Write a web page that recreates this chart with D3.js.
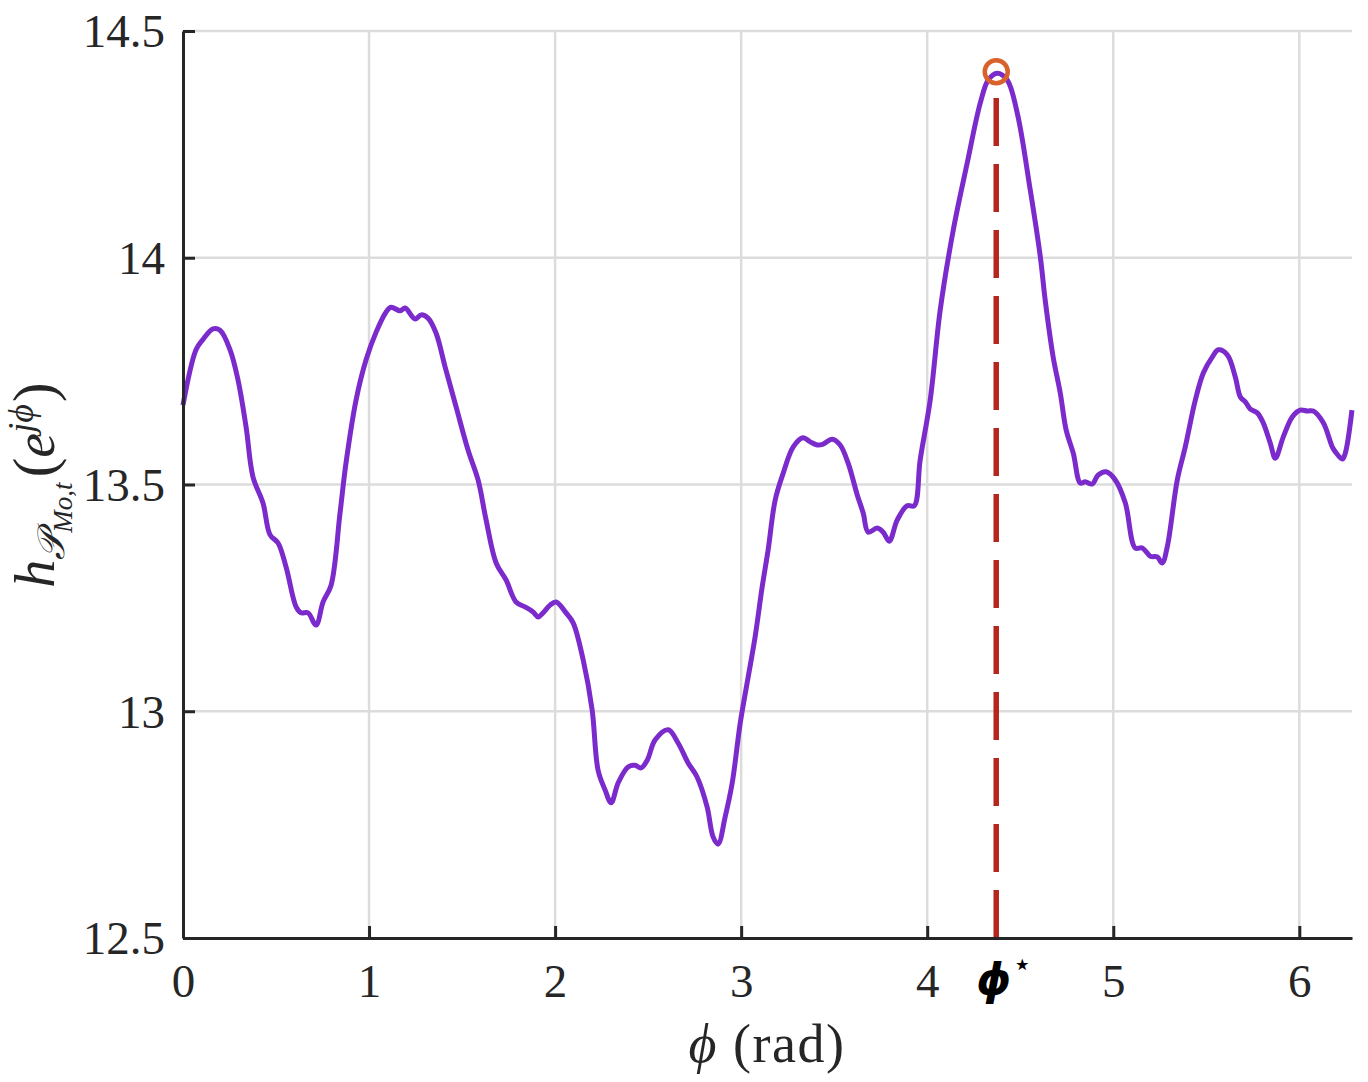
<!DOCTYPE html>
<html>
<head>
<meta charset="utf-8">
<script src="https://cdn.jsdelivr.net/npm/d3@7"></script>
<style>
  body { margin: 0; background: #fff; }
  svg { display: block; }
  .tick text { font-family: "Liberation Serif", "DejaVu Serif", serif; }
</style>
</head>
<body>
<svg id="chart" width="1368" height="1082"></svg>
<script>
// phase angle samples (rad)
let PHI = [0, 0.07, 0.108, 0.161, 0.199, 0.253, 0.296, 0.339, 0.376, 0.43, 0.468, 0.511, 0.554, 0.608,
    0.634, 0.672, 0.715, 0.753, 0.796, 0.844, 0.876, 0.93, 0.984, 1.038, 1.091, 1.118, 1.167, 1.194,
    1.247, 1.28, 1.317, 1.36, 1.409, 1.468, 1.532, 1.586, 1.629, 1.683, 1.737, 1.79, 1.839, 1.882,
    1.909, 1.935, 1.973, 2.005, 2.059, 2.097, 2.151, 2.199, 2.231, 2.269, 2.301, 2.339, 2.392, 2.43,
    2.462, 2.495, 2.538, 2.608, 2.661, 2.715, 2.763, 2.817, 2.849, 2.876, 2.914, 2.952, 2.995, 3.038,
    3.075, 3.113, 3.145, 3.183, 3.226, 3.28, 3.333, 3.371, 3.409, 3.441, 3.489, 3.532, 3.575, 3.624,
    3.656, 3.683, 3.731, 3.763, 3.796, 3.839, 3.892, 3.93, 3.962, 4.016, 4.07, 4.14, 4.215, 4.285,
    4.328, 4.376, 4.43, 4.484, 4.554, 4.608, 4.634, 4.677, 4.715, 4.747, 4.785, 4.823, 4.849, 4.887,
    4.919, 4.962, 5.011, 5.065, 5.118, 5.156, 5.199, 5.237, 5.263, 5.29, 5.344, 5.387, 5.441, 5.484,
    5.532, 5.565, 5.613, 5.656, 5.683, 5.71, 5.737, 5.774, 5.806, 5.844, 5.871, 5.914, 5.962, 6.005,
    6.043, 6.075, 6.129, 6.177, 6.194, 6.231, 6.247, 6.283];

let H = [13.675, 13.797, 13.82, 13.843, 13.84, 13.797, 13.73, 13.627, 13.517, 13.459, 13.389, 13.371,
    13.318, 13.23, 13.217, 13.217, 13.19, 13.241, 13.278, 13.437, 13.547, 13.686, 13.775, 13.836,
    13.88, 13.891, 13.883, 13.889, 13.865, 13.874, 13.867, 13.834, 13.759, 13.671, 13.576, 13.51,
    13.422, 13.327, 13.289, 13.241, 13.23, 13.219, 13.208, 13.217, 13.234, 13.241, 13.217, 13.195,
    13.113, 13.003, 12.87, 12.826, 12.798, 12.842, 12.877, 12.881, 12.875, 12.892, 12.937, 12.959,
    12.93, 12.886, 12.855, 12.789, 12.723, 12.707, 12.767, 12.842, 12.974, 13.076, 13.164, 13.274,
    13.356, 13.466, 13.525, 13.583, 13.603, 13.594, 13.587, 13.589, 13.6, 13.587, 13.547, 13.477,
    13.437, 13.395, 13.404, 13.395, 13.375, 13.422, 13.453, 13.453, 13.554, 13.686, 13.885, 14.061,
    14.209, 14.341, 14.392, 14.407, 14.392, 14.319, 14.149, 14.002, 13.907, 13.781, 13.702, 13.62,
    13.569, 13.503, 13.506, 13.501, 13.521, 13.528, 13.51, 13.459, 13.36, 13.36, 13.342, 13.34,
    13.327, 13.362, 13.51, 13.583, 13.686, 13.746, 13.781, 13.797, 13.786, 13.737, 13.693, 13.682,
    13.666, 13.658, 13.636, 13.591, 13.558, 13.605, 13.649, 13.664, 13.662, 13.662, 13.636, 13.583,
    13.572, 13.556, 13.569, 13.664];

let X_TICKS = [0, 1, 2, 3, 4, 5, 6];
let Y_TICKS = [12.5, 13, 13.5, 14, 14.5];
let PHI_STAR = 4.371;
let H_STAR = 14.41;

let margin = {top: 31, right: 16, bottom: 144, left: 183};
let width = 1368;
let height = 1082;

let svg = d3.select("#chart");

let x = d3.scaleLinear()
    .domain([0, 2 * Math.PI])
    .range([margin.left, width - margin.right]);

let y = d3.scaleLinear()
    .domain([12.5, 14.5])
    .range([height - margin.bottom, margin.top]);

// grid
svg.append("g")
    .selectAll("line")
    .data(X_TICKS.slice(1))
    .join("line")
    .attr("x1", d => x(d)).attr("x2", d => x(d))
    .attr("y1", y(12.5)).attr("y2", y(14.5))
    .attr("stroke", "#dcdcdc")
    .attr("stroke-width", 2.5);

svg.append("g")
    .selectAll("line")
    .data(Y_TICKS.slice(1))
    .join("line")
    .attr("x1", x(0)).attr("x2", x(2 * Math.PI))
    .attr("y1", d => y(d)).attr("y2", d => y(d))
    .attr("stroke", "#dcdcdc")
    .attr("stroke-width", 2.5);

// curve
let line = d3.line()
    .x((d, i) => x(PHI[i]))
    .y(d => y(d))
    .curve(d3.curveCatmullRom.alpha(0.5));

svg.append("path")
    .datum(H)
    .attr("d", line)
    .attr("fill", "none")
    .attr("stroke", "#7b2bcc")
    .attr("stroke-width", 5)
    .attr("stroke-linejoin", "round");

// phi* marker
svg.append("line")
    .attr("x1", x(PHI_STAR)).attr("x2", x(PHI_STAR))
    .attr("y1", y(12.5)).attr("y2", y(H_STAR) + 16)
    .attr("stroke", "#b5271e")
    .attr("stroke-width", 5.5)
    .attr("stroke-dasharray", "48 18");

svg.append("circle")
    .attr("cx", x(PHI_STAR))
    .attr("cy", y(H_STAR))
    .attr("r", 11.5)
    .attr("fill", "none")
    .attr("stroke", "#d8612c")
    .attr("stroke-width", 4.5);

// axes
let xAxis = d3.axisBottom(x)
    .tickValues(X_TICKS)
    .tickFormat(d3.format("~g"))
    .tickSizeInner(-12)
    .tickSizeOuter(0)
    .tickPadding(26);

let yAxis = d3.axisLeft(y)
    .tickValues(Y_TICKS)
    .tickFormat(d3.format("~g"))
    .tickSizeInner(-12)
    .tickSizeOuter(0)
    .tickPadding(18);

let gx = svg.append("g")
    .attr("transform", `translate(0,${y(12.5)})`)
    .call(xAxis);

let gy = svg.append("g")
    .attr("transform", `translate(${x(0)},0)`)
    .call(yAxis);

[gx, gy].forEach(g => {
    g.select(".domain").attr("stroke", "#262626").attr("stroke-width", 3);
    g.selectAll(".tick line").attr("stroke", "#262626").attr("stroke-width", 3);
    g.selectAll(".tick text")
        .attr("fill", "#262626")
        .attr("font-size", 47);
});
gy.selectAll(".tick text").attr("dy", "0.34em");

// phi* tick label
let ps = svg.append("text")
    .attr("x", x(PHI_STAR) - 20)
    .attr("y", 995)
    .attr("font-family", "DejaVu Sans")
    .attr("fill", "#000");
ps.append("tspan")
    .attr("font-style", "italic")
    .attr("font-weight", "bold")
    .attr("font-size", 44)
    .text("ϕ");
ps.append("tspan")
    .attr("dy", -20)
    .attr("dx", 1)
    .attr("font-size", 32)
    .text("⋆");

// x label
let xl = svg.append("text")
    .attr("x", 767)
    .attr("y", 1062)
    .attr("text-anchor", "middle")
    .attr("font-family", "Liberation Serif")
    .attr("font-size", 54)
    .attr("letter-spacing", 1.5)
    .attr("fill", "#262626");
xl.append("tspan").attr("font-style", "italic").text("ϕ");
xl.append("tspan").text(" (rad)");

// y label
let yl = svg.append("text")
    .attr("transform", "translate(54,485) rotate(-90)")
    .attr("text-anchor", "middle")
    .attr("font-family", "Liberation Serif")
    .attr("font-size", 56)
    .attr("fill", "#262626");
yl.append("tspan").attr("font-style", "italic").text("h");
yl.append("tspan").attr("font-style", "italic").attr("font-size", 38).attr("dy", 10).text("𝒫");
yl.append("tspan").attr("font-style", "italic").attr("font-size", 27).attr("dy", 8).text("Mo,t");
yl.append("tspan").attr("dy", -18).attr("dx", 5).attr("font-size", 60).text("(");
yl.append("tspan").attr("font-style", "italic").text("e");
yl.append("tspan").attr("font-style", "italic").attr("font-size", 36).attr("dy", -21).text("jϕ");
yl.append("tspan").attr("dy", 21).attr("dx", 2).attr("font-size", 60).text(")");
</script>
</body>
</html>
